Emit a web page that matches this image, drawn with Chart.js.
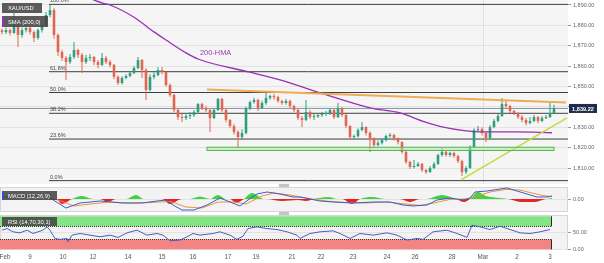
<!DOCTYPE html>
<html>
<head>
<meta charset="utf-8">
<script src="https://cdn.jsdelivr.net/npm/chart.js@4.4.1/dist/chart.umd.min.js"></script>
<style>
  body { margin: 0; background: #fff; width: 604px; height: 263px; overflow: hidden; position: relative; }
  canvas { position: absolute; left: 0; }
  .handle { position: absolute; left: 279px; width: 10px; height: 3px; background: #c4c4c4; }
</style>
</head>
<body>
<canvas id="main" width="604" height="184" style="top:0"></canvas>
<div class="handle" style="top:184px"></div>
<canvas id="macd" width="604" height="25" style="top:187px"></canvas>
<div class="handle" style="top:212px"></div>
<canvas id="rsi" width="604" height="48" style="top:215px"></canvas>
<script>
// XAU/USD hourly-ish candles, Feb 8 -> Mar 3 (one candle per slot)
let firstOpen = 1877.5;
let closes = [
  1876.7,1877.7,1876.3,1880.2,1875.3,1877.7,1878.7,1876.7,1873.8,1877.7,
  1880.2,1885.1,1887.5,1875.3,1866.9,1864.0,1862.0,1864.5,1867.9,1865.5,
  1862.0,1864.0,1864.5,1862.0,1860.6,1864.0,1862.0,1860.6,1854.7,1851.7,
  1854.2,1855.2,1856.6,1859.1,1863.0,1858.1,1848.3,1854.7,1855.6,1858.1,
  1857.1,1850.7,1845.8,1838.5,1835.0,1834.5,1835.5,1836.0,1837.5,1841.4,
  1839.4,1838.5,1834.5,1838.5,1843.9,1838.5,1833.6,1830.6,1827.7,1825.2,
  1827.2,1839.4,1842.4,1843.4,1839.4,1841.9,1844.4,1845.3,1844.8,1842.9,
  1841.9,1842.9,1840.4,1838.5,1834.5,1833.6,1837.5,1835.0,1835.4,1836.0,
  1836.5,1837.0,1838.5,1835.0,1839.4,1836.0,1830.6,1825.2,1825.6,1828.6,
  1830.1,1827.2,1824.7,1821.3,1822.3,1823.7,1825.7,1826.2,1824.7,1822.8,
  1817.9,1813.0,1810.5,1811.0,1812.0,1809.0,1808.0,1810.0,1812.0,1816.4,
  1817.9,1816.4,1817.4,1815.9,1813.4,1808.0,1810.0,1820.3,1828.6,1829.1,
  1827.2,1824.7,1830.1,1833.1,1835.5,1841.4,1840.4,1838.0,1837.0,1835.0,
  1833.6,1832.1,1833.1,1835.0,1833.1,1834.5,1835.0,1837.0,1839.22
];
let highs = [
  1878.5,1879.0,1878.5,1886.1,1881.0,1879.0,1880.0,1879.5,1877.5,1878.5,
  1881.5,1886.6,1890.3,1888.5,1876.0,1868.0,1865.0,1866.0,1871.8,1868.5,
  1866.5,1865.5,1866.0,1865.0,1863.0,1866.4,1865.0,1863.0,1861.0,1855.5,
  1855.0,1856.0,1857.5,1860.0,1864.5,1863.5,1859.0,1856.0,1857.0,1859.5,
  1859.6,1857.5,1851.5,1846.5,1839.0,1836.5,1837.0,1837.5,1838.5,1841.9,
  1842.0,1840.5,1839.0,1839.5,1844.4,1844.5,1839.0,1834.0,1831.5,1828.5,
  1829.0,1840.0,1843.0,1844.5,1844.0,1843.0,1846.8,1846.0,1846.3,1845.5,
  1843.5,1843.9,1843.5,1841.0,1839.0,1835.5,1843.4,1838.5,1836.5,1837.0,
  1837.5,1838.0,1839.4,1839.0,1841.9,1840.0,1836.5,1831.0,1826.5,1829.5,
  1832.6,1830.5,1828.0,1825.0,1823.5,1824.5,1826.5,1827.2,1826.8,1825.0,
  1823.0,1818.5,1813.5,1813.9,1813.0,1812.5,1809.5,1811.0,1813.0,1817.0,
  1819.8,1818.5,1818.0,1818.0,1816.5,1814.0,1811.0,1821.0,1829.5,1830.6,
  1830.0,1828.0,1831.0,1834.0,1836.5,1844.4,1843.0,1841.0,1838.5,1837.5,
  1836.0,1834.5,1835.0,1836.0,1835.5,1835.5,1836.0,1841.9,1841.0
];
let lows = [
  1875.5,1875.8,1875.0,1875.8,1869.4,1874.0,1876.5,1875.5,1871.8,1873.0,
  1876.5,1879.5,1884.0,1873.5,1865.0,1862.5,1853.2,1861.0,1863.5,1864.0,
  1856.6,1861.0,1862.5,1860.5,1859.0,1860.0,1861.0,1859.5,1853.5,1850.7,
  1851.0,1853.5,1854.5,1856.0,1858.5,1854.2,1843.4,1847.5,1853.5,1855.0,
  1856.0,1850.0,1845.0,1837.5,1833.6,1832.6,1833.5,1834.0,1835.0,1837.0,
  1838.5,1837.5,1827.7,1834.0,1838.0,1837.5,1832.5,1829.5,1826.5,1819.8,
  1824.0,1826.5,1838.5,1841.5,1838.0,1839.0,1841.0,1843.5,1843.5,1842.0,
  1841.0,1841.0,1839.5,1837.5,1833.5,1830.1,1833.0,1834.0,1833.5,1834.5,
  1835.0,1835.5,1836.0,1834.0,1834.5,1835.0,1829.5,1824.0,1824.0,1825.0,
  1828.0,1826.0,1817.9,1820.0,1820.5,1821.5,1823.0,1825.0,1823.5,1821.5,
  1817.0,1812.0,1809.5,1809.8,1810.5,1808.0,1807.0,1807.5,1809.5,1811.5,
  1815.5,1815.5,1815.5,1815.0,1812.5,1806.1,1807.0,1809.5,1820.0,1827.5,
  1826.0,1822.8,1824.0,1829.5,1832.5,1835.0,1839.0,1837.0,1836.0,1834.0,
  1832.5,1831.0,1831.5,1832.5,1832.0,1832.5,1834.0,1834.5,1836.5
];

// x axis: candle slot of each date label
let dayTickIdx  = [0.75, 7, 15.25, 22.75, 31.5, 40, 47.75, 56.5, 63.5, 72.5, 79.75, 87.75, 96.25, 103.25, 112.5, 120.25, 128.75, 137];
let dayTickText = ['Feb','9','10','12','14','15','16','17','19','21','22','23','24','26','28','Mar','2','3'];
let monthNames = ['Mar'];
let priceTicks = [1810, 1820, 1830, 1840, 1850, 1860, 1870, 1880, 1890];

// 200 SMA: [slot, price]
let sma200 = [[21,1894],[25,1891],[27,1890],[33,1884],[38,1876.8],[41,1872.8],[46,1866.5],[49,1863.5],
  [62,1857],[69.5,1853.2],[79.5,1846.9],[92,1839.5],[99.5,1837],[105.75,1832.6],[110,1830.2],
  [120,1827.7],[128.75,1827.7],[137.5,1827.3]];

let fibHigh = 1890.3, fibLow = 1803.8;
let fibRatios = [0, 0.236, 0.382, 0.5, 0.618, 1];
let fibFrom = 11.75;
let resistance = [[51.25,1848.5],[141,1842.1]];
let support = [[114.75,1804.2],[141.25,1834.6]];
let zoneSlots = [51.25, 138];
let zonePrices = [1818.6, 1820.2];
let lastPrice = 1839.22;

// MACD (12,26,9)
let macdLine = [[0,1],[8,1.5],[12,0.5],[16,-4.5],[19.5,-2],[24.5,-1],[30,-2],[35,-2],[38.75,-1],[41,-0.5],
  [42.75,-3],[45,-5.5],[48,-5.5],[51.25,-3],[54.5,0.5],[57,-1.5],[59.5,-3.5],[61.5,-0.5],[63.75,2.5],
  [66.25,3.5],[69.5,2.5],[72.75,1],[74.5,1],[79.5,-1],[82.75,-1.5],[87.75,-2],[92.75,-1.5],[97,-1.5],
  [100.25,-3],[102.75,-3.5],[106.25,-3],[108.75,-0.5],[112,0.5],[115.25,-0.5],[117,0.5],[118.25,3.5],
  [121.25,4],[124.5,5],[126.25,5.5],[128.75,4],[131.25,2.5],[133.75,1],[136.25,1],[137.5,1.5]];
let signalLine = [[0,1.2],[10,1.2],[14,-0.5],[18,-3.5],[22,-2.5],[27,-1.5],[32,-2],[37,-1.8],[42,-1.2],
  [46,-4],[50,-4.5],[54,-1.5],[58,-1.5],[61,-2.5],[65,1.5],[68,3],[72,2],[76,0.5],[81,-1],[86,-1.8],
  [91,-2],[96,-1.5],[101,-2.5],[104.5,-3.2],[108,-2],[112,-0.2],[116,0],[119,1.5],[122,3.5],[126,4.8],
  [129.5,4.5],[132.5,3],[135,1.8],[137.5,1.2]];
let macdHist = [[0,0],[13.5,0],[15,-2.5],[17.5,0],[20,1.5],[22.75,0],[24.5,0],[26.5,-1.5],[28.5,0],
  [31,0],[33.5,2],[35.5,0],[40,0],[42,-2.5],[45,0],[47,0],[49.5,1.2],[52,0],[54,2],[56,0],[57,0],
  [58.5,-2],[60.5,0],[62.5,3],[65.5,0],[66,0],[70,-1],[74,-0.5],[76,-1],[78,0],[81.5,1],[84,0],[85,0],
  [87.5,-2.5],[89.5,0],[92.5,1],[96,0],[99.5,0],[102,-1.5],[104.5,0],[106,0],[110,2],[113.5,0],
  [115.5,-1.5],[117,0],[119,3.5],[121,1.5],[124.5,0.5],[126.5,0],[130,-1.5],[133,-1.5],[136,0],[137.5,0.5]];

// RSI (14,70,30,1)
let rsiLine = [[0,58],[1.25,63],[2.75,53],[4.5,50],[6.25,58],[7.75,48],[10.25,58],[11.25,68],[12,58],
  [13.25,33],[14.5,30],[16.25,33],[16.5,23],[17.5,43],[19.5,48],[22,43],[24.5,38],[27,43],[29,36],
  [31.25,50],[33.75,58],[36.25,43],[38.75,48],[40.25,43],[42,26],[44.5,28],[46.25,38],[47.75,48],
  [49.5,43],[52.75,48],[54.5,53],[57,43],[58.75,30],[60.25,40],[61.5,63],[63.75,68],[66.25,63],
  [68.75,60],[71.25,53],[73.75,43],[74.5,33],[77,48],[79.5,53],[82.75,56],[84.5,48],[87,33],[89.5,48],
  [92.75,43],[96.25,50],[98.75,43],[101.25,28],[103.75,33],[105.25,30],[107.75,53],[111.25,58],
  [113.75,48],[116.25,36],[117.5,73],[119.5,68],[122,60],[124.5,70],[126.25,63],[129.5,50],[132,48],
  [134.5,53],[137,60]];
let rsiLevels = [30, 70];
let rsiBandEnd = 137.5;

let xMin = -0.5, xMax = 141.5;
let font = '"Liberation Sans", Arial, sans-serif';
let upCol = '#2e9e7e', downCol = '#e06650';

let opens = closes.map((c, i) => i == 0 ? firstOpen : closes[i - 1]);
let candleCol = closes.map((c, i) => c >= opens[i] ? upCol : downCol);
let pts = arr => arr.map(p => ({ x: p[0], y: p[1] }));
let fmt = v => v.toLocaleString('en-US', { minimumFractionDigits: 2, maximumFractionDigits: 2 });

function txt(ctx, s, x, y, size, color, align, bold) {
  ctx.save();
  ctx.font = (bold ? 'bold ' : '') + size + 'px ' + font;
  ctx.fillStyle = color;
  ctx.textAlign = align || 'left';
  ctx.textBaseline = 'middle';
  ctx.fillText(s, x, y);
  ctx.restore();
}
function tag(ctx, x, y, w, h, s, accent) {
  ctx.save();
  ctx.fillStyle = 'rgba(70,70,70,0.88)';
  ctx.fillRect(x, y, w, h);
  if (accent) { ctx.fillStyle = accent; ctx.fillRect(x, y, 2, h); }
  ctx.restore();
  txt(ctx, s, x + 6, y + h / 2 + 0.5, 5.8, '#fff');
}
function yLabels(chart, values) {
  let ys = chart.scales.y, x = chart.chartArea.right + 5;
  values.forEach(v => txt(chart.ctx, fmt(v), x, ys.getPixelForValue(v), 5.5, '#666'));
}
function paneBg(fill, stroke) {
  return {
    id: 'paneBg',
    beforeDraw(chart) {
      let a = chart.chartArea, c = chart.ctx;
      c.save();
      c.fillStyle = fill;
      c.fillRect(a.left, a.top, a.right - a.left, a.bottom - a.top);
      if (stroke) {
        c.strokeStyle = stroke;
        c.strokeRect(a.left + 0.5, a.top + 0.5, a.right - a.left - 1, a.bottom - a.top - 1);
      }
      c.restore();
    }
  };
}
let yAxis = (min, max, ticks) => ({
  position: 'right', min: min, max: max,
  ticks: { display: false },
  border: { display: false },
  grid: { color: '#e3e3e3', tickColor: '#999', tickLength: 3 },
  afterBuildTicks: s => { s.ticks = ticks.map(v => ({ value: v })); },
  afterFit: s => { s.width = 36; }
});
let xAxis = extra => Object.assign({
  type: 'linear', min: xMin, max: xMax, offset: false,
  ticks: { display: false }, border: { display: false }, grid: { display: false }
}, extra);
let baseOpts = {
  responsive: false, animation: false, events: [],
  layout: { padding: 0 },
  plugins: { legend: { display: false }, tooltip: { enabled: false } }
};
let line = (data, color, width, order, extra) => Object.assign({
  type: 'line', data: pts(data), borderColor: color, borderWidth: width,
  pointRadius: 0, fill: false, order: order
}, extra);

// ---------- main price pane ----------
let fibPrices = fibRatios.map(r => fibLow + r * (fibHigh - fibLow));
let idx = closes.map((c, i) => i);

let mainDecor = {
  id: 'mainDecor',
  beforeDatasetsDraw(chart) {
    // month separator grid line
    let xs = chart.scales.x, a = chart.chartArea, c = chart.ctx;
    c.save();
    c.fillStyle = '#e0e0e0';
    dayTickIdx.forEach((v, i) => {
      if (monthNames.includes(dayTickText[i])) c.fillRect(Math.round(xs.getPixelForValue(v)), a.top, 1, a.bottom - a.top);
    });
    c.restore();
  },
  afterDatasetsDraw(chart) {
    let xs = chart.scales.x, ys = chart.scales.y, c = chart.ctx;
    let x0 = xs.getPixelForValue(zoneSlots[0]), x1 = xs.getPixelForValue(zoneSlots[1]);
    let y0 = ys.getPixelForValue(zonePrices[1]), y1 = ys.getPixelForValue(zonePrices[0]);
    c.save();
    c.fillStyle = 'rgba(170,235,160,0.55)';
    c.fillRect(x0, y0, x1 - x0, y1 - y0);
    c.strokeStyle = '#55b455';
    c.lineWidth = 1;
    c.strokeRect(x0, y0, x1 - x0, y1 - y0);
    c.restore();
  },
  afterDraw(chart) {
    let xs = chart.scales.x, ys = chart.scales.y, c = chart.ctx;
    fibRatios.forEach((r, i) => {
      txt(c, (r * 100).toFixed(1) + '%', xs.getPixelForValue(fibFrom) + 1, ys.getPixelForValue(fibPrices[i]) - 3.5, 5.5, '#444');
    });
    yLabels(chart, priceTicks);
    let py = ys.getPixelForValue(lastPrice);
    c.save();
    c.fillStyle = '#1f2d4d';
    c.fillRect(chart.chartArea.right + 1, py - 4.5, 28, 9);
    c.restore();
    txt(c, fmt(lastPrice), chart.chartArea.right + 15, py + 0.5, 5.6, '#fff', 'center', true);
    tag(c, 2, 3, 40, 10, 'XAU/USD');
    tag(c, 2, 16, 46, 11, 'SMA (200,0)', '#9a2fb5');
    txt(c, '200-HMA', 200, 53, 7.4, '#9a3cb0');
  }
};

new Chart(document.getElementById('main').getContext('2d'), {
  type: 'bar',
  data: {
    datasets: [
      line(resistance, '#efac52', 2, 0),
      line(support, '#c2dc3a', 1.5, 0),
      line(sma200, '#9a2fb5', 1.3, 1, { cubicInterpolationMode: 'monotone' }),
      { type: 'bar', data: idx.map(i => ({ x: i, y: [opens[i], closes[i]] })), backgroundColor: candleCol,
        grouped: false, maxBarThickness: 2.6, minBarLength: 1, order: 2 },
      { type: 'bar', data: idx.map(i => ({ x: i, y: [lows[i], highs[i]] })), backgroundColor: candleCol,
        grouped: false, maxBarThickness: 1, order: 3 },
      ...fibPrices.map(p => line([[fibFrom, p], [xMax, p]], '#3f3f3f', 1, 4)),
      line([[xMin, lastPrice], [xMax, lastPrice]], '#8793a6', 1, 5)
    ]
  },
  options: Object.assign({}, baseOpts, {
    scales: {
      x: xAxis({ afterFit: s => { s.height = 0; } }),
      y: yAxis(1802.15, 1892.45, priceTicks)
    }
  }),
  plugins: [paneBg('#f5f5f5'), mainDecor]
});

// ---------- MACD pane ----------
new Chart(document.getElementById('macd').getContext('2d'), {
  type: 'line',
  data: {
    datasets: [
      line(macdLine, '#3d5cd0', 1, 0),
      line(signalLine, '#f0913a', 1, 1),
      line(macdHist, 'rgba(0,0,0,0)', 0, 2, {
        cubicInterpolationMode: 'monotone',
        fill: { target: 'origin', above: '#3fd43f', below: '#e42424' }
      })
    ]
  },
  options: Object.assign({}, baseOpts, {
    scales: { x: xAxis({ display: false }), y: yAxis(-6.5, 6, [0]) }
  }),
  plugins: [paneBg('#f3f3f3', '#d6d6d6'), {
    id: 'macdDecor',
    afterDraw(chart) {
      yLabels(chart, [0]);
      tag(chart.ctx, 2, 4, 55, 9, 'MACD (12,26,9)', '#3050d0');
    }
  }]
});

// ---------- RSI pane ----------
new Chart(document.getElementById('rsi').getContext('2d'), {
  type: 'line',
  data: { datasets: [line(rsiLine, '#4b5cc4', 1, 0)] },
  options: Object.assign({}, baseOpts, {
    scales: {
      x: xAxis({ afterFit: s => { s.height = 13; } }),
      y: yAxis(-2, 104, [0, 50])
    }
  }),
  plugins: [paneBg('#f3f3f3', '#d6d6d6'), {
    id: 'rsiDecor',
    beforeDatasetsDraw(chart) {
      let xs = chart.scales.x, ys = chart.scales.y, c = chart.ctx;
      let x0 = chart.chartArea.left, x1 = xs.getPixelForValue(rsiBandEnd);
      let bands = [[rsiLevels[1], 100, '#82e482'], [0, rsiLevels[0], '#f38484']];
      c.save();
      bands.forEach(b => {
        let yt = ys.getPixelForValue(b[1]), yb = ys.getPixelForValue(b[0]);
        c.fillStyle = b[2];
        c.fillRect(x0, yt, x1 - x0, yb - yt);
        c.fillStyle = '#2a2a2a';
        c.fillRect(x1 - 1, yt, 1, yb - yt);
      });
      c.strokeStyle = '#333';
      c.setLineDash([1, 1]);
      rsiLevels.forEach(v => {
        let y = Math.round(ys.getPixelForValue(v)) + 0.5;
        c.beginPath(); c.moveTo(x0, y); c.lineTo(x1, y); c.stroke();
      });
      c.restore();
    },
    afterDraw(chart) {
      let xs = chart.scales.x, c = chart.ctx;
      yLabels(chart, [0, 50]);
      tag(c, 2, 2, 55, 9, 'RSI (14,70,30,1)');
      dayTickIdx.forEach((v, i) => txt(c, dayTickText[i], xs.getPixelForValue(v), 42, 6.3, '#555', 'center'));
    }
  }]
});
</script>
</body>
</html>
